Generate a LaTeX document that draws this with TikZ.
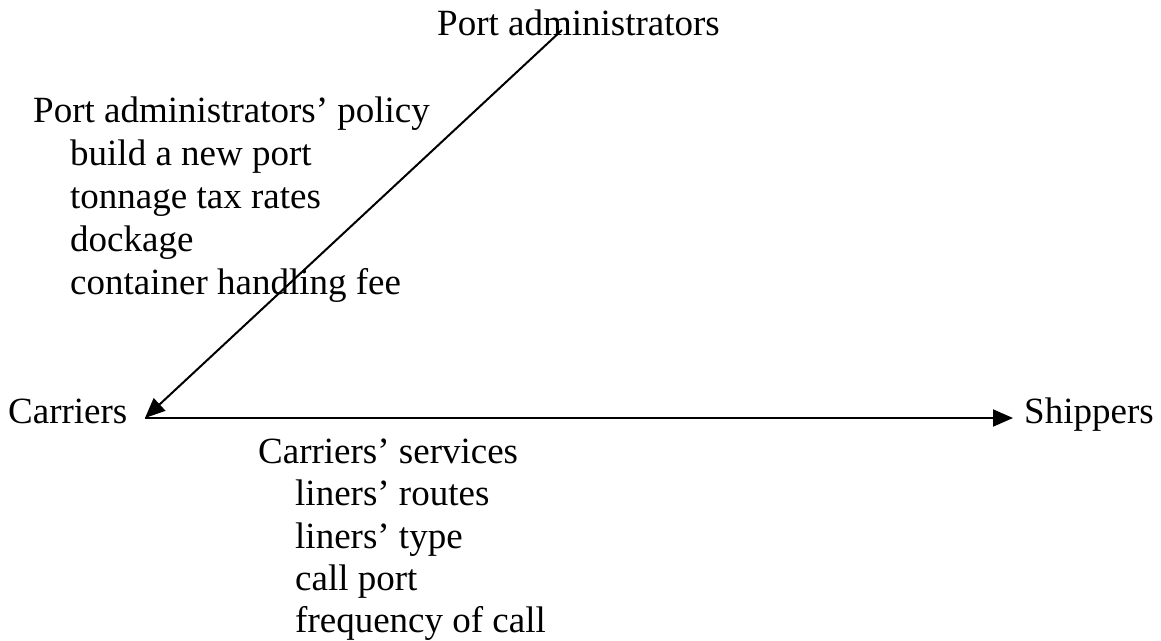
\documentclass[tikz,border=0pt]{standalone}
\usepackage{fontspec}
\setmainfont{Liberation Serif}
\usetikzlibrary{arrows.meta}
\begin{document}
\begin{tikzpicture}[x=1pt,y=-1pt,
  lbl/.style={anchor=base west,inner sep=0pt,font=\fontsize{37}{43}\selectfont},
  conn/.style={line width=2pt,-{Triangle[length=20pt,width=17pt]}}]
\useasboundingbox (0,0) rectangle (1161,640);
\node[lbl] (pa) at (437,35) {Port administrators};
\node[lbl] (carr) at (8,423) {Carriers};
\node[lbl] (ship) at (1024,423) {Shippers};
\node[lbl] (pol) at (33,122) {Port administrators’ policy};
\node[lbl] (p1) at (70,165) {build a new port};
\node[lbl] (p2) at (70,208) {tonnage tax rates};
\node[lbl] (p3) at (70,251) {dockage};
\node[lbl] (p4) at (70,294) {container handling fee};
\node[lbl] (srv) at (258,463) {Carriers’ services};
\node[lbl] (s1) at (295,505.5) {liners’ routes};
\node[lbl] (s2) at (295,548) {liners’ type};
\node[lbl] (s3) at (295,590.5) {call port};
\node[lbl] (s4) at (295,632) {frequency of call};
\coordinate (paend) at (562,30);
\coordinate (caend) at (145,418);
\coordinate (shend) at (1013,418);
\draw[conn] (paend) -- (caend);
\draw[conn] (caend) -- (shend);
\end{tikzpicture}
\end{document}
